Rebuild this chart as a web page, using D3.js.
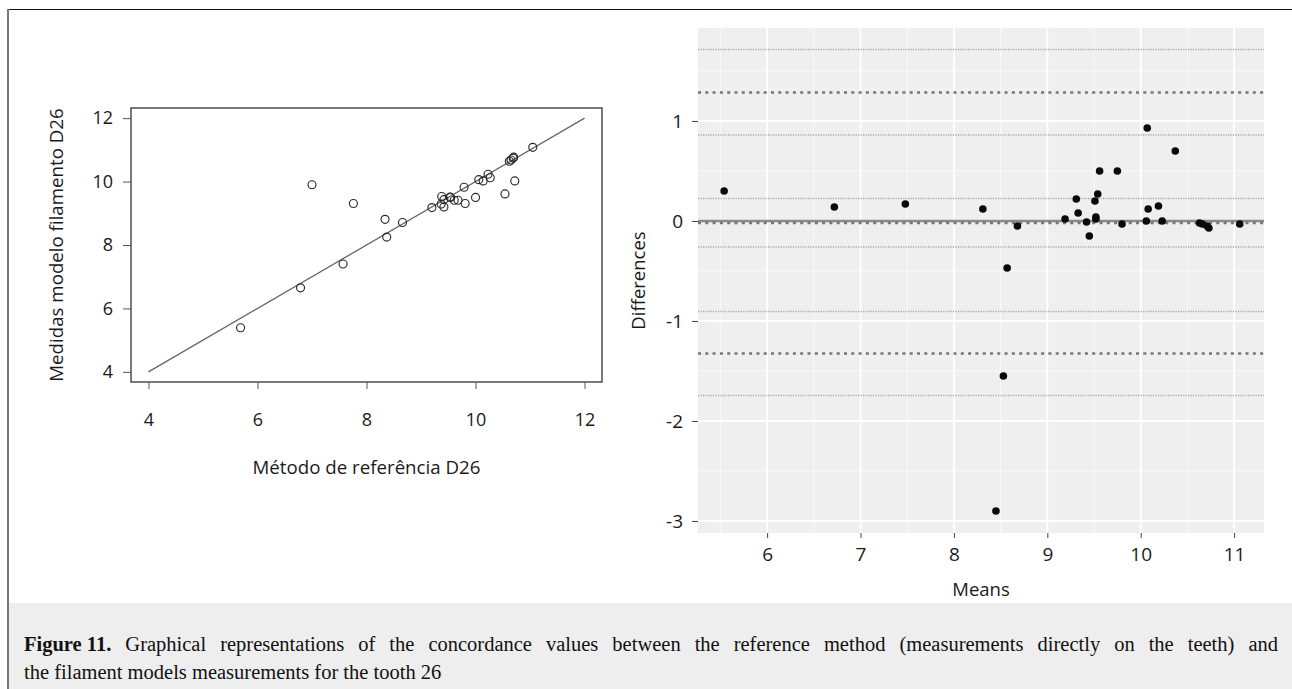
<!DOCTYPE html>
<html><head><meta charset="utf-8">
<script src="https://cdn.jsdelivr.net/npm/d3@7"></script>
<style>
html,body{margin:0;padding:0;background:#fff;}
svg{display:block;}
</style></head>
<body>
<svg id="chart" width="1292" height="689"></svg>
<script>
// ---- Data: left panel (scatter: reference vs filament model, tooth 26)
const refValues   = [5.69, 6.79, 7.57, 8.37, 8.66, 8.34, 9.20, 9.42, 9.37, 9.42, 9.38, 9.61, 9.68, 9.54, 9.53, 9.81, 10.00, 9.79, 10.54, 10.14, 10.06, 10.27, 10.23, 10.72, 10.62, 10.65, 10.69, 10.70, 11.05, 7.76, 7.00];
const modelValues = [5.39, 6.65, 7.40, 8.25, 8.71, 8.81, 9.18, 9.20, 9.29, 9.43, 9.53, 9.41, 9.41, 9.50, 9.51, 9.31, 9.50, 9.82, 9.61, 10.02, 10.06, 10.12, 10.23, 10.02, 10.64, 10.68, 10.74, 10.77, 11.08, 9.31, 9.90];
const identityLine = [4, 12];
const leftXTicks = [4, 6, 8, 10, 12];
const leftYTicks = [4, 6, 8, 10, 12];

// ---- Data: right panel (Bland-Altman)
const baMeans = [5.54, 6.72, 7.48, 8.31, 8.68, 8.57, 9.19, 9.31, 9.33, 9.42, 9.45, 9.51, 9.54, 9.52, 9.52, 9.56, 9.75, 9.80, 10.07, 10.08, 10.06, 10.19, 10.23, 10.37, 10.63, 10.66, 10.71, 10.73, 11.06, 8.53, 8.45];
const baDiffs = [0.30, 0.14, 0.17, 0.12, -0.05, -0.47, 0.02, 0.22, 0.08, -0.01, -0.15, 0.20, 0.27, 0.04, 0.02, 0.50, 0.50, -0.03, 0.93, 0.12, 0.00, 0.15, 0.00, 0.70, -0.02, -0.03, -0.05, -0.07, -0.03, -1.55, -2.90];
const zeroLine = [0];
const biasAndLimits = [1.285, -0.02, -1.325];
const confidenceLines = [1.715, 0.86, 0.225, -0.26, -0.905, -1.745];
const rightXTicks = [6, 7, 8, 9, 10, 11];
const rightYTicks = [-3, -2, -1, 0, 1];
const rightXMinor = [5.5, 6.5, 7.5, 8.5, 9.5, 10.5];
const rightYMinor = [-2.5, -1.5, -0.5, 0.5, 1.5];

const captionBold = "Figure 11.";
const captionLine1 = "Graphical representations of the concordance values between the reference method (measurements directly on the teeth) and";
const captionLine2 = "the filament models measurements for the tooth 26";

const svg = d3.select("#chart");
const FONT = "'Open Sans', 'Noto Sans', sans-serif";
const intFmt = d => String(d);

// figure frame
svg.append("rect").attr("x", 8).attr("y", 603).attr("width", 1284).attr("height", 86).attr("fill", "#eeeeee");
svg.append("line").attr("x1", 8).attr("x2", 1292).attr("y1", 9.5).attr("y2", 9.5).attr("stroke", "#111").attr("stroke-width", 1.2);
svg.append("line").attr("x1", 8).attr("x2", 8).attr("y1", 9).attr("y2", 689).attr("stroke", "#777").attr("stroke-width", 2);

// ================= LEFT PANEL =================
const L = {left: 131, right: 602, top: 108, bottom: 382};
const xL = d3.scaleLinear().domain([3.68, 12.32]).range([L.left, L.right]);
const yL = d3.scaleLinear().domain([3.68, 12.32]).range([L.bottom, L.top]);
const gL = svg.append("g");

gL.append("rect").attr("x", L.left).attr("y", L.top).attr("width", L.right - L.left).attr("height", L.bottom - L.top)
  .attr("fill", "none").attr("stroke", "#222").attr("stroke-width", 1.2);

gL.append("line")
  .attr("x1", xL(identityLine[0])).attr("y1", yL(identityLine[0]))
  .attr("x2", xL(identityLine[1])).attr("y2", yL(identityLine[1]))
  .attr("stroke", "#666").attr("stroke-width", 1.3);

gL.selectAll("circle.pt").data(refValues).join("circle").attr("class", "pt")
  .attr("cx", d => xL(d)).attr("cy", (d, i) => yL(modelValues[i])).attr("r", 4)
  .attr("fill", "none").attr("stroke", "#2a2a2a").attr("stroke-width", 1.15);

const axL_x = gL.append("g").attr("transform", `translate(0,${L.bottom})`)
  .call(d3.axisBottom(xL).tickValues(leftXTicks).tickSize(7).tickPadding(24).tickFormat(intFmt));
const axL_y = gL.append("g").attr("transform", `translate(${L.left},0)`)
  .call(d3.axisLeft(yL).tickValues(leftYTicks).tickSize(8).tickPadding(10).tickFormat(intFmt));
[axL_x, axL_y].forEach(a => {
  a.select(".domain").remove();
  a.selectAll(".tick line").attr("stroke", "#555");
  a.selectAll("text").attr("font-family", FONT).attr("font-size", 18).attr("fill", "#1a1a1a");
});

gL.append("text").attr("x", (L.left + L.right) / 2).attr("y", 474).attr("text-anchor", "middle")
  .attr("font-family", FONT).attr("font-size", 18.7).attr("fill", "#1a1a1a").text("Método de referência D26");
gL.append("text").attr("transform", `translate(63,${(L.top + L.bottom) / 2}) rotate(-90)`).attr("text-anchor", "middle")
  .attr("font-family", FONT).attr("font-size", 18.7).attr("fill", "#1a1a1a").text("Medidas modelo filamento D26");

// ================= RIGHT PANEL =================
const R = {left: 698, right: 1264, top: 28, bottom: 533};
const xR = d3.scaleLinear().domain([5.26, 11.32]).range([R.left, R.right]);
const yR = d3.scaleLinear().domain([1.93, -3.12]).range([R.top, R.bottom]);
const gR = svg.append("g");

gR.append("rect").attr("x", R.left).attr("y", R.top).attr("width", R.right - R.left).attr("height", R.bottom - R.top).attr("fill", "#efefef");
gR.selectAll("line.vmin").data(rightXMinor).join("line").attr("class", "vmin")
  .attr("x1", d => xR(d)).attr("x2", d => xR(d)).attr("y1", R.top).attr("y2", R.bottom).attr("stroke", "#fbfbfb").attr("stroke-width", 0.9);
gR.selectAll("line.hmin").data(rightYMinor).join("line").attr("class", "hmin")
  .attr("y1", d => yR(d)).attr("y2", d => yR(d)).attr("x1", R.left).attr("x2", R.right).attr("stroke", "#fbfbfb").attr("stroke-width", 0.9);
gR.selectAll("line.vmaj").data(rightXTicks).join("line").attr("class", "vmaj")
  .attr("x1", d => xR(d)).attr("x2", d => xR(d)).attr("y1", R.top).attr("y2", R.bottom).attr("stroke", "#fff").attr("stroke-width", 1.8);
gR.selectAll("line.hmaj").data(rightYTicks).join("line").attr("class", "hmaj")
  .attr("y1", d => yR(d)).attr("y2", d => yR(d)).attr("x1", R.left).attr("x2", R.right).attr("stroke", "#fff").attr("stroke-width", 1.8);

gR.selectAll("line.ci").data(confidenceLines).join("line").attr("class", "ci")
  .attr("y1", d => yR(d)).attr("y2", d => yR(d)).attr("x1", R.left).attr("x2", R.right)
  .attr("stroke", "#a8a8a8").attr("stroke-width", 1.6).attr("stroke-dasharray", "1.2,1.3");
gR.selectAll("line.zero").data(zeroLine).join("line").attr("class", "zero")
  .attr("y1", d => yR(d)).attr("y2", d => yR(d)).attr("x1", R.left).attr("x2", R.right)
  .attr("stroke", "#8a8a8a").attr("stroke-width", 2.6);
gR.selectAll("line.lim").data(biasAndLimits).join("line").attr("class", "lim")
  .attr("y1", d => yR(d)).attr("y2", d => yR(d)).attr("x1", R.left).attr("x2", R.right)
  .attr("stroke", "#767676").attr("stroke-width", 2.4).attr("stroke-dasharray", "3,4.3");

gR.selectAll("circle.pt").data(baMeans).join("circle").attr("class", "pt")
  .attr("cx", d => xR(d)).attr("cy", (d, i) => yR(baDiffs[i])).attr("r", 3.8).attr("fill", "#0a0a0a");

const axR_x = gR.append("g").attr("transform", `translate(0,${R.bottom})`)
  .call(d3.axisBottom(xR).tickValues(rightXTicks).tickSize(5).tickPadding(10).tickFormat(intFmt));
const axR_y = gR.append("g").attr("transform", `translate(${R.left},0)`)
  .call(d3.axisLeft(yR).tickValues(rightYTicks).tickSize(6).tickPadding(9).tickFormat(intFmt));
[axR_x, axR_y].forEach(a => {
  a.select(".domain").remove();
  a.selectAll(".tick line").attr("stroke", "#444");
  a.selectAll("text").attr("font-family", FONT).attr("font-size", 19).attr("fill", "#1a1a1a");
});
gR.append("text").attr("x", (R.left + R.right) / 2).attr("y", 596).attr("text-anchor", "middle")
  .attr("font-family", FONT).attr("font-size", 18.5).attr("fill", "#1a1a1a").text("Means");
gR.append("text").attr("transform", `translate(645,${(R.top + R.bottom) / 2}) rotate(-90)`).attr("text-anchor", "middle")
  .attr("font-family", FONT).attr("font-size", 18.5).attr("fill", "#1a1a1a").text("Differences");

// ================= CAPTION =================
const CF = "'Liberation Serif', 'Times New Roman', serif";
const capSize = 20.5;
const capLeft = 24, capRight = 1278;
const line1Words = [{t: captionBold, bold: true}].concat(captionLine1.split(" ").map(t => ({t, bold: false})));
const gC = svg.append("g");
const measured = line1Words.map(w => {
  const t = gC.append("text").attr("font-family", CF).attr("font-size", capSize)
    .attr("font-weight", w.bold ? "bold" : "normal").attr("fill", "#111").attr("y", 651).text(w.t);
  return {node: t, w: t.node().getComputedTextLength()};
});
const totalW = d3.sum(measured, m => m.w);
const gap = Math.max(4, (capRight - capLeft - totalW) / (measured.length - 1));
let cx = capLeft;
measured.forEach(m => { m.node.attr("x", cx); cx += m.w + gap; });
gC.append("text").attr("x", capLeft).attr("y", 679).attr("font-family", CF).attr("font-size", capSize)
  .attr("fill", "#111").text(captionLine2);
</script>
</body></html>
